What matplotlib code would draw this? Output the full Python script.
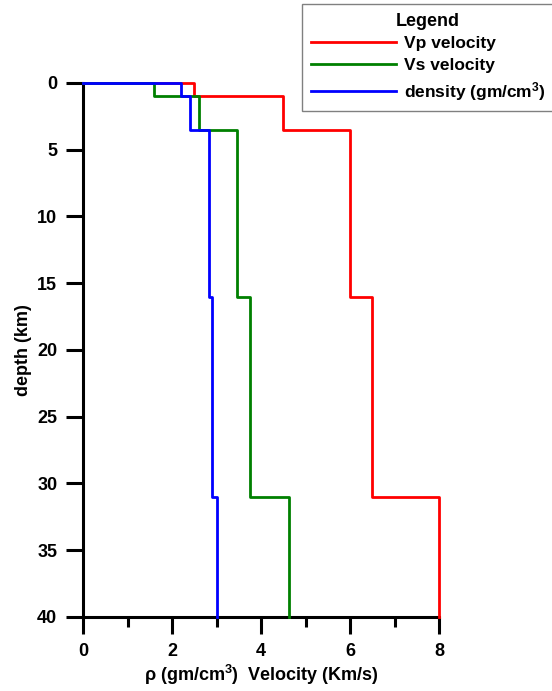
import numpy as np
import matplotlib
matplotlib.use("Agg")
import matplotlib.pyplot as plt

plt.rcParams['font.family'] = ['Liberation Sans', 'DejaVu Sans']
plt.rcParams['mathtext.default'] = 'regular'

# layer boundaries (km) and layer values
depth = [0, 1, 3.5, 16, 31, 40]
vp = [2.5, 4.5, 6.0, 6.5, 8.0]
vs = [1.6, 2.6, 3.45, 3.75, 4.62]
rho = [2.2, 2.4, 2.82, 2.9, 3.0]


def step_xy(vals):
    # start at x=0 on the surface, then a step per layer
    xs, ys = [0], [depth[0]]
    for i, v in enumerate(vals):
        xs += [v, v]
        ys += [depth[i], depth[i + 1]]
    return xs, ys


fig = plt.figure(figsize=(5.52, 6.91), dpi=100)
ax = fig.add_axes([0.1504, 0.1071, 0.645, 0.7728])

x, y = step_xy(vp)
ax.plot(x, y, color='#ff0000', lw=2, label='Vp velocity', clip_on=False)
x, y = step_xy(vs)
ax.plot(x, y, color='#008000', lw=2, label='Vs velocity', clip_on=False)
x, y = step_xy(rho)
ax.plot(x, y, color='#0000ff', lw=2, label='density (gm/cm$^{3}$)', clip_on=False)

ax.set_xlim(0, 8)
ax.set_ylim(40, 0)
ax.set_xticks([0, 2, 4, 6, 8])
ax.set_xticks([1, 3, 5, 7], minor=True)
ax.set_yticks(np.arange(0, 41, 5))

for s in ['top', 'right']:
    ax.spines[s].set_visible(False)
for s in ['left', 'bottom']:
    ax.spines[s].set_linewidth(2.2)
    ax.spines[s].set_zorder(1)

ax.tick_params(axis='both', which='major', length=12.5, width=2.2, labelsize=13, pad=6)
ax.tick_params(axis='x', which='minor', length=7, width=2.2)
for lab in ax.get_xticklabels() + ax.get_yticklabels():
    lab.set_fontweight('bold')

ax.set_xlabel('ρ (gm/cm$^{3}$)  Velocity (Km/s)', fontsize=13, fontweight='bold', labelpad=2)
ax.set_ylabel('depth (km)', fontsize=13, fontweight='bold', labelpad=4)

leg = fig.legend(loc='upper left', bbox_to_anchor=(302 / 552, 1 - 4 / 691),
                 borderaxespad=0, title='Legend', fontsize=12.5,
                 handlelength=4.9, handletextpad=0.45,
                 fancybox=False, framealpha=1, edgecolor='#808080',
                 borderpad=0.5, labelspacing=0.38)
leg.get_title().set_fontweight('bold')
leg.get_title().set_fontsize(13)
for t in leg.get_texts():
    t.set_fontweight('bold')
for h in leg.get_lines():
    h.set_linewidth(2)
leg.get_frame().set_linewidth(1)

fig.savefig('out.png', dpi=100)
